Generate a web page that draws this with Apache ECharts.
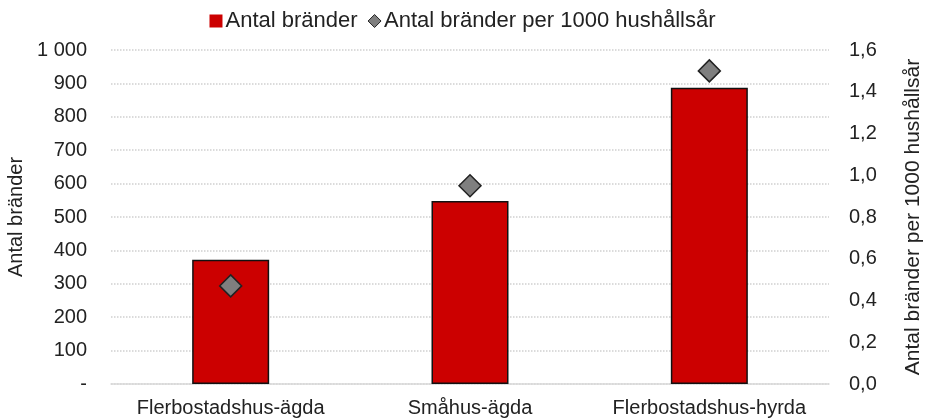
<!DOCTYPE html>
<html><head><meta charset="utf-8">
<script src="https://cdn.jsdelivr.net/npm/echarts@6/dist/echarts.min.js"></script>
<style>html,body{margin:0;padding:0;background:#fff}#c{width:925px;height:419px}</style>
</head><body><div id="c"></div>
<script>
var categories = ['Flerbostadshus-ägda', 'Småhus-ägda', 'Flerbostadshus-hyrda'];
var antalBrander = [372, 548, 887];
var perTusen = [0.47, 0.95, 1.50];
var leftTicks = {0: '-', 1000: '1 000'};

var chart = echarts.init(document.getElementById('c'));
var font = 'Liberation Sans, Arial, sans-serif';
chart.setOption({
  animation: false,
  textStyle: {fontFamily: font},
  legend: {
    top: 5, left: 'center', itemGap: 10, itemWidth: 13, itemHeight: 13,
    textStyle: {fontSize: 22, color: '#222', fontFamily: font, padding: [0, 0, 0, -2]},
    data: [
      {name: 'Antal bränder', icon: 'rect', itemStyle: {color: '#cc0000', borderWidth: 0}},
      {name: 'Antal bränder per 1000 hushållsår', icon: 'diamond', itemStyle: {color: '#7f7f7f', borderColor: '#222', borderWidth: 1}}
    ]
  },
  grid: {left: 111, right: 96, top: 50, bottom: 35, containLabel: false, outerBoundsMode: 'none'},
  xAxis: {
    type: 'category', data: categories,
    axisLine: {lineStyle: {color: '#d9d9d9', width: 1.5}},
    axisTick: {show: false},
    axisLabel: {fontSize: 20, color: '#222', margin: 14, fontFamily: font, interval: 0, hideOverlap: false}
  },
  yAxis: [{
    type: 'value', min: 0, max: 1000, interval: 100,
    name: 'Antal bränder', nameLocation: 'middle', nameGap: 81, nameRotate: 90,
    nameTextStyle: {fontSize: 20, color: '#222', fontFamily: font},
    axisLine: {show: false}, axisTick: {show: false},
    axisLabel: {fontSize: 20, color: '#222', margin: 24, fontFamily: font,
      formatter: function (v) { return leftTicks[v] !== undefined ? leftTicks[v] : String(v); }},
    splitLine: {lineStyle: {color: '#d0d0d0', type: 'dotted', width: 1.5}}
  }, {
    type: 'value', min: 0, max: 1.6, interval: 0.2,
    name: 'Antal bränder per 1000 hushållsår', nameLocation: 'middle', nameGap: 74, nameRotate: 90,
    nameTextStyle: {fontSize: 21, color: '#222', fontFamily: font},
    axisLine: {show: false}, axisTick: {show: false},
    axisLabel: {fontSize: 20, color: '#222', margin: 20, fontFamily: font,
      formatter: function (v) { return v.toFixed(1).replace('.', ','); }},
    splitLine: {show: false}
  }],
  series: [{
    name: 'Antal bränder', type: 'bar', yAxisIndex: 0, data: antalBrander,
    barWidth: 77,
    itemStyle: {color: '#cc0000', borderColor: '#111', borderWidth: 1.5}
  }, {
    name: 'Antal bränder per 1000 hushållsår', type: 'scatter', yAxisIndex: 1, data: perTusen,
    symbol: 'diamond', symbolSize: [22, 22],
    itemStyle: {color: '#7f7f7f', borderColor: '#222', borderWidth: 1.5, opacity: 1}
  }]
});
</script></body></html>
